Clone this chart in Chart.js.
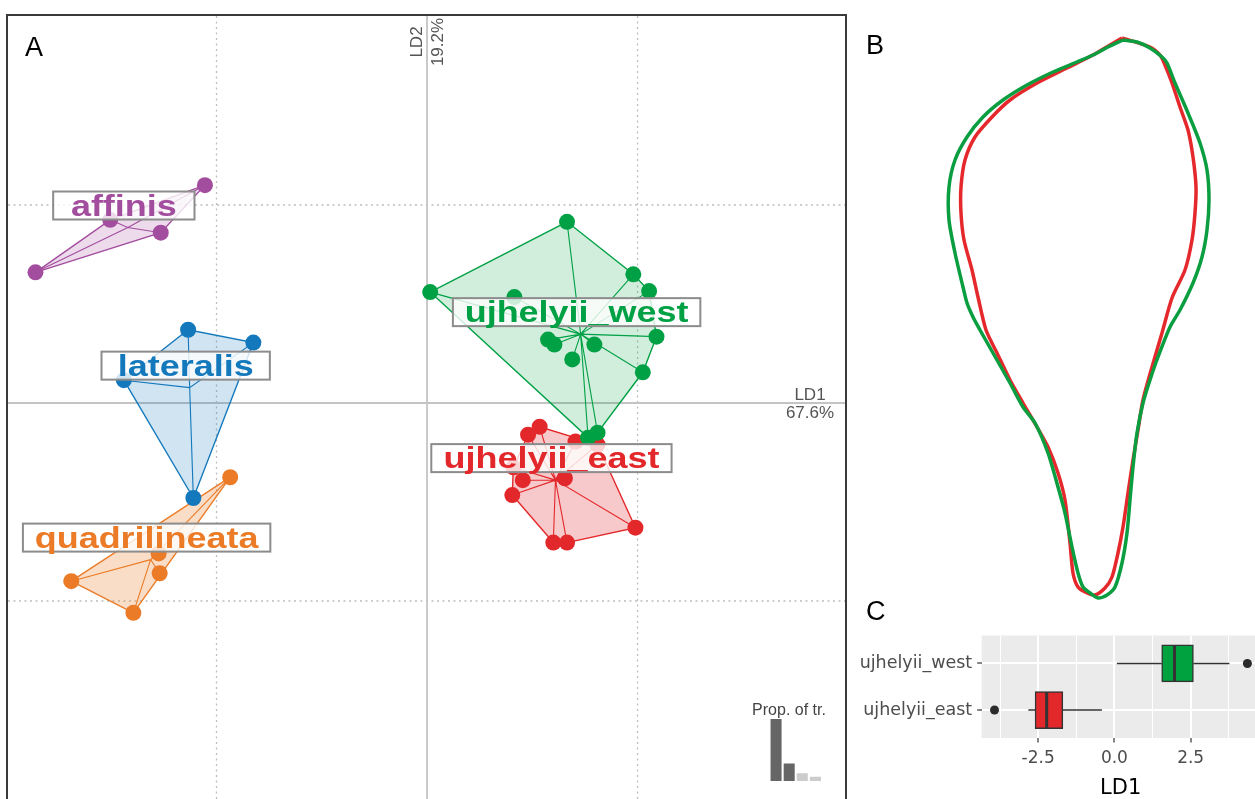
<!DOCTYPE html>
<html>
<head>
<meta charset="utf-8">
<title>Discriminant analysis of body shape</title>
<script src="https://cdn.jsdelivr.net/npm/chart.js@4.4.1/dist/chart.umd.min.js"></script>
<style>
  html, body { margin: 0; padding: 0; background: #fff; }
  body { width: 1255px; height: 799px; position: relative; overflow: hidden;
         font-family: "Liberation Sans", Arial, sans-serif; }
  canvas, .tag, #frameA { position: absolute; }
  #frameA { left: 6px; top: 14px; width: 837px; height: 790px; border: 2px solid #3a3a3a; }
  #chartA { left: 8px; top: 16px; }
  #chartEig { left: 745px; top: 695px; }
  #chartB { left: 848px; top: 15px; }
  #chartC { left: 848px; top: 620px; }
  .tag { font-size: 27px; line-height: 1; color: #000; }
</style>
</head>
<body>
<div id="frameA"></div>
<canvas id="chartA" width="837" height="790"></canvas>
<canvas id="chartEig" width="90" height="86"></canvas>
<canvas id="chartB" width="407" height="610"></canvas>
<canvas id="chartC" width="414" height="179"></canvas>
<div class="tag" style="left:25px;top:34px">A</div>
<div class="tag" style="left:866px;top:32px">B</div>
<div class="tag" style="left:866px;top:598px">C</div>

<script>
// ---------- Panel A: scores on the first two discriminant axes ----------
const speciesNames = ['affinis', 'lateralis', 'quadrilineata', 'ujhelyii_east', 'ujhelyii_west'];
const speciesColors = ['#A34D9E', '#1479BC', '#EB7B26', '#E3282B', '#00A145'];
const hullAlpha = [0.2, 0.2, 0.26, 0.25, 0.18];

const affinisLD1 = [-2.11, -3.01, -2.53, -3.72];
const affinisLD2 = [2.20, 1.85, 1.72, 1.32];

const lateralisLD1 = [-2.27, -1.65, -2.88, -2.22];
const lateralisLD2 = [0.74, 0.61, 0.23, -0.96];

const quadrilineataLD1 = [-1.87, -2.55, -2.54, -3.38, -2.79];
const quadrilineataLD2 = [-0.75, -1.52, -1.72, -1.80, -2.12];

const eastLD1 = [1.07, 0.96, 1.41, 1.62, 0.82, 0.91, 1.31, 0.81, 1.98, 1.20, 1.33];
const eastLD2 = [-0.24, -0.32, -0.39, -0.42, -0.65, -0.78, -0.76, -0.93, -1.26, -1.41, -1.41];

const westLD1 = [1.33, 0.03, 0.83, 1.96, 2.11, 2.18, 2.05, 1.15, 1.21, 1.38, 1.59, 1.62, 1.53];
const westLD2 = [1.83, 1.12, 1.07, 1.30, 1.13, 0.67, 0.31, 0.64, 0.59, 0.44, 0.59, -0.30, -0.35];

const scoresLD1 = [affinisLD1, lateralisLD1, quadrilineataLD1, eastLD1, westLD1];
const scoresLD2 = [affinisLD2, lateralisLD2, quadrilineataLD2, eastLD2, westLD2];

const axisLabels = ['LD1', 'LD2'];
const axisShare = ['67.6%', '19.2%'];

// proportion of trace per discriminant axis (inset)
const eigLabels = ['LD1', 'LD2', 'LD3', 'LD4'];
const eigProp = [67.6, 19.2, 8.5, 4.7];

// ---------- Panel B: mean outlines ----------
const westOutlineX = [0.33,0.47,0.60,0.72,0.77,0.85,0.98,1.10,1.17,1.19,1.17,1.12,1.03,0.90,0.80,0.68,0.60,0.53,0.47,0.43,0.40,0.37,0.32,0.25,0.17,0.08,0.00,-0.07,-0.12,-0.18,-0.25,-0.32,-0.42,-0.55,-0.67,-0.80,-0.97,-1.10,-1.17,-1.23,-1.27,-1.35,-1.41,-1.41,-1.35,-1.23,-1.07,-0.87,-0.63,-0.37,-0.13,0.03,0.18];
const westOutlineY = [2.80,2.78,2.72,2.63,2.57,2.37,2.07,1.77,1.50,1.20,0.90,0.63,0.37,0.10,-0.07,-0.37,-0.60,-0.83,-1.13,-1.47,-1.80,-2.13,-2.43,-2.67,-2.75,-2.78,-2.73,-2.67,-2.53,-2.27,-1.93,-1.67,-1.33,-1.03,-0.87,-0.63,-0.33,-0.10,0.03,0.17,0.33,0.67,1.00,1.33,1.60,1.83,2.03,2.20,2.35,2.48,2.58,2.65,2.73];
const eastOutlineX = [0.32,0.60,0.70,0.75,0.82,0.90,0.98,1.03,1.06,1.05,1.02,0.95,0.82,0.72,0.62,0.53,0.48,0.43,0.38,0.33,0.28,0.22,0.15,0.05,-0.03,-0.12,-0.17,-0.20,-0.25,-0.32,-0.42,-0.53,-0.67,-0.80,-0.93,-1.04,-1.12,-1.18,-1.26,-1.29,-1.29,-1.25,-1.15,-0.98,-0.80,-0.53,-0.23,0.03,0.20];
const eastOutlineY = [2.82,2.73,2.65,2.55,2.37,2.13,1.90,1.63,1.33,1.07,0.80,0.50,0.22,-0.13,-0.47,-0.80,-1.10,-1.40,-1.73,-2.07,-2.33,-2.57,-2.68,-2.75,-2.73,-2.67,-2.53,-2.23,-1.80,-1.53,-1.27,-1.07,-0.83,-0.60,-0.33,-0.10,0.23,0.50,0.80,1.07,1.33,1.60,1.83,2.03,2.20,2.37,2.52,2.65,2.75];

// ---------- Panel C: LD1 distribution of the two ujhelyii groups ----------
const boxCategories = ['ujhelyii_east', 'ujhelyii_west'];
const boxColors = ['#E3282B', '#00A23F'];
const boxLower = [-2.82, 0.08];
const boxQ1 = [-2.60, 1.55];
const boxMedian = [-2.22, 1.97];
const boxQ3 = [-1.69, 2.59];
const boxUpper = [-0.41, 3.77];
const boxOutliers = [-3.93, 4.36];
const ld1MajorTicks = [-2.5, 0, 2.5];
const ld1MinorTicks = [-3.75, -1.25, 1.25, 3.75];

// ---------------------------------------------------------------------------
function hexToRgba(hex, a) {
  const n = parseInt(hex.slice(1), 16);
  return `rgba(${(n >> 16) & 255},${(n >> 8) & 255},${n & 255},${a})`;
}
const mean = arr => arr.reduce((s, v) => s + v, 0) / arr.length;

function convexHull(points) {
  const p = points.slice().sort((a, b) => a.x - b.x || a.y - b.y);
  const cross = (o, a, b) => (a.x - o.x) * (b.y - o.y) - (a.y - o.y) * (b.x - o.x);
  const lower = [];
  for (const q of p) {
    while (lower.length >= 2 && cross(lower[lower.length - 2], lower[lower.length - 1], q) <= 0) lower.pop();
    lower.push(q);
  }
  const upper = [];
  for (let i = p.length - 1; i >= 0; i--) {
    const q = p[i];
    while (upper.length >= 2 && cross(upper[upper.length - 2], upper[upper.length - 1], q) <= 0) upper.pop();
    upper.push(q);
  }
  upper.pop(); lower.pop();
  return lower.concat(upper);
}

const SANS = '"Liberation Sans", Arial, sans-serif';
const WIDE = '"DejaVu Sans", sans-serif';

// ---------- Panel A ----------
const centroids = speciesNames.map((_, g) => ({ x: mean(scoresLD1[g]), y: mean(scoresLD2[g]) }));
const datasetsA = [];
speciesNames.forEach((name, g) => {
  const col = speciesColors[g];
  const pts = scoresLD1[g].map((x, i) => ({ x, y: scoresLD2[g][i] }));
  const c = centroids[g];
  const hull = convexHull(pts);
  hull.push(hull[0]);
  datasetsA.push({
    type: 'line', label: name + ' hull', data: hull, fill: 'shape',
    backgroundColor: hexToRgba(col, hullAlpha[g]), borderColor: col, borderWidth: 1.4,
    pointRadius: 0, tension: 0, order: 300 - g
  });
  const star = [];
  pts.forEach(p => { star.push(c, p); });
  star.push(c);
  datasetsA.push({
    type: 'line', label: name + ' star', data: star, fill: false,
    borderColor: col, borderWidth: 1.1, pointRadius: 0, tension: 0, order: 200 - g
  });
  datasetsA.push({
    type: 'scatter', label: name, data: pts, pointRadius: 8,
    pointBackgroundColor: col, pointBorderWidth: 0, order: 100 - g
  });
});

const gridPluginA = {
  id: 'ldGrid',
  beforeDatasetsDraw(chart) {
    const { ctx, chartArea: a, scales: { x, y } } = chart;
    ctx.save();
    ctx.strokeStyle = '#bdbdbd';
    ctx.lineWidth = 1.3;
    ctx.setLineDash([2, 3.5]);
    [-2, 2].forEach(v => {
      const px = x.getPixelForValue(v);
      ctx.beginPath(); ctx.moveTo(px, a.top); ctx.lineTo(px, a.bottom); ctx.stroke();
      const py = y.getPixelForValue(v);
      ctx.beginPath(); ctx.moveTo(a.left, py); ctx.lineTo(a.right, py); ctx.stroke();
    });
    ctx.setLineDash([]);
    ctx.strokeStyle = '#c4c4c4';
    ctx.lineWidth = 1.8;
    const x0 = x.getPixelForValue(0), y0 = y.getPixelForValue(0);
    ctx.beginPath(); ctx.moveTo(x0, a.top); ctx.lineTo(x0, a.bottom); ctx.stroke();
    ctx.beginPath(); ctx.moveTo(a.left, y0); ctx.lineTo(a.right, y0); ctx.stroke();

    // axis names with explained share
    ctx.fillStyle = '#555';
    ctx.font = '17px ' + SANS;
    ctx.textAlign = 'center';
    ctx.textBaseline = 'alphabetic';
    ctx.fillText(axisLabels[0], a.right - 35, y0 - 3);
    ctx.fillText(axisShare[0], a.right - 35, y0 + 15);
    ctx.save();
    ctx.translate(x0 - 5, a.top + 26);
    ctx.rotate(-Math.PI / 2);
    ctx.fillText(axisLabels[1], 0, 0);
    ctx.restore();
    ctx.save();
    ctx.translate(x0 + 16, a.top + 26);
    ctx.rotate(-Math.PI / 2);
    ctx.fillText(axisShare[1], 0, 0);
    ctx.restore();
    ctx.restore();
  },
  afterDatasetsDraw(chart) {
    const { ctx, scales: { x, y } } = chart;
    const stretch = 1.24;
    ctx.save();
    ctx.font = 'bold 29px ' + SANS;
    speciesNames.forEach((name, g) => {
      const cx = x.getPixelForValue(centroids[g].x) - 4;
      const cy = y.getPixelForValue(centroids[g].y) - 22;
      const tw = ctx.measureText(name).width * stretch;
      const bw = 0.9 * tw + 46, bh = 28;
      ctx.fillStyle = 'rgba(255,255,255,0.8)';
      ctx.fillRect(cx - bw / 2, cy - bh / 2, bw, bh);
      ctx.strokeStyle = '#8c8c8c';
      ctx.lineWidth = 2;
      ctx.strokeRect(cx - bw / 2, cy - bh / 2, bw, bh);
      ctx.save();
      ctx.translate(cx, cy + 10);
      ctx.scale(stretch, 1);
      ctx.textAlign = 'center';
      ctx.fillStyle = speciesColors[g];
      ctx.fillText(name, 0, 0);
      ctx.restore();
    });
    ctx.restore();
  }
};

new Chart(document.getElementById('chartA'), {
  type: 'scatter',
  data: { datasets: datasetsA },
  options: {
    responsive: false, animation: false, events: [],
    layout: { padding: 0, autoPadding: false },
    plugins: { legend: { display: false }, tooltip: { enabled: false } },
    scales: {
      x: { type: 'linear', display: false, min: -3.981, max: 3.971 },
      y: { type: 'linear', display: false, min: -4.071, max: 3.909 }
    }
  },
  plugins: [gridPluginA]
});

// inset: proportion of trace
new Chart(document.getElementById('chartEig'), {
  type: 'bar',
  data: {
    labels: eigLabels,
    datasets: [{
      data: eigProp,
      backgroundColor: ['#666666', '#666666', '#cccccc', '#cccccc'],
      categoryPercentage: 1, barPercentage: 0.84
    }]
  },
  options: {
    responsive: false, animation: false, events: [],
    layout: { padding: { left: 24.5, right: 13, top: 21, bottom: 0 }, autoPadding: false },
    plugins: { legend: { display: false }, tooltip: { enabled: false } },
    scales: {
      x: { display: false },
      y: { display: false, min: 0, max: 71 }
    }
  },
  plugins: [{
    id: 'eigTitle',
    afterDraw(chart) {
      const { ctx, chartArea: a } = chart;
      ctx.save();
      ctx.fillStyle = '#444';
      ctx.font = '16px ' + SANS;
      ctx.textAlign = 'center';
      ctx.fillText('Prop. of tr.', a.left + 19.5, a.top - 1);
      ctx.restore();
    }
  }]
});

// ---------- Panel B ----------
const closeLoop = (xs, ys) => {
  const d = xs.map((x, i) => ({ x, y: ys[i] }));
  d.push(d[0]);
  return d;
};
new Chart(document.getElementById('chartB'), {
  type: 'scatter',
  data: {
    datasets: [
      { label: 'ujhelyii_west', data: closeLoop(westOutlineX, westOutlineY), showLine: true,
        borderColor: '#0A9E40', borderWidth: 3.5, pointRadius: 0, tension: 0.25, order: 0 },
      { label: 'ujhelyii_east', data: closeLoop(eastOutlineX, eastOutlineY), showLine: true,
        borderColor: '#E4282B', borderWidth: 3.5, pointRadius: 0, tension: 0.25, order: 1 }
    ]
  },
  options: {
    responsive: false, animation: false, events: [],
    layout: { padding: 0, autoPadding: false },
    plugins: { legend: { display: false }, tooltip: { enabled: false } },
    scales: {
      x: { type: 'linear', display: false, min: -2.42, max: 1.65 },
      y: { type: 'linear', display: false, min: -3.05, max: 3.05 }
    }
  }
});

// ---------- Panel C ----------
const isMinor = v => ld1MinorTicks.some(m => Math.abs(m - v) < 1e-9);
const boxPlugin = {
  id: 'boxParts',
  beforeDraw(chart) {
    const { ctx, chartArea: a } = chart;
    ctx.save();
    ctx.fillStyle = '#EBEBEB';
    ctx.fillRect(a.left, a.top, a.right - a.left, a.bottom - a.top);
    ctx.restore();
  },
  beforeDatasetsDraw(chart) {
    const { ctx, scales: { x, y } } = chart;
    ctx.save();
    ctx.strokeStyle = '#333';
    ctx.lineWidth = 1.5;
    boxCategories.forEach((_, i) => {
      const py = y.getPixelForValue(i + 1);
      ctx.beginPath();
      ctx.moveTo(x.getPixelForValue(boxLower[i]), py);
      ctx.lineTo(x.getPixelForValue(boxQ1[i]), py);
      ctx.moveTo(x.getPixelForValue(boxQ3[i]), py);
      ctx.lineTo(x.getPixelForValue(boxUpper[i]), py);
      ctx.stroke();
    });
    ctx.restore();
  },
  afterDatasetsDraw(chart) {
    const { ctx, scales: { x, y } } = chart;
    ctx.save();
    ctx.strokeStyle = '#333';
    ctx.lineWidth = 3;
    boxCategories.forEach((_, i) => {
      const py = y.getPixelForValue(i + 1);
      const px = x.getPixelForValue(boxMedian[i]);
      ctx.beginPath();
      ctx.moveTo(px, py - 18);
      ctx.lineTo(px, py + 18);
      ctx.stroke();
    });
    ctx.restore();
  }
};

new Chart(document.getElementById('chartC'), {
  type: 'bar',
  data: {
    datasets: [
      {
        type: 'bar', indexAxis: 'y', label: 'LD1',
        data: boxCategories.map((_, i) => ({ x: [boxQ1[i], boxQ3[i]], y: i + 1 })),
        backgroundColor: boxColors, borderColor: '#333', borderWidth: 1.5,
        borderSkipped: false, barThickness: 37, order: 1
      },
      {
        type: 'scatter', label: 'outliers',
        data: boxOutliers.map((v, i) => ({ x: v, y: i + 1 })),
        pointRadius: 4.5, pointBackgroundColor: '#2b2b2b', pointBorderWidth: 0, order: 0
      }
    ]
  },
  options: {
    indexAxis: 'y',
    responsive: false, animation: false, events: [],
    layout: { padding: { top: 14, right: 2.4, left: 0, bottom: 0 }, autoPadding: false },
    plugins: { legend: { display: false }, tooltip: { enabled: false } },
    scales: {
      x: {
        type: 'linear', axis: 'x', position: 'bottom', min: -4.35, max: 4.76, offset: false,
        afterBuildTicks: s => {
          s.ticks = ld1MajorTicks.concat(ld1MinorTicks).sort((a, b) => a - b).map(v => ({ value: v }));
        },
        afterFit: s => { s.height = 61; },
        border: { display: false },
        grid: {
          offset: false,
          color: '#ffffff',
          lineWidth: c => (c.tick && isMinor(c.tick.value) ? 1 : 2),
          tickColor: c => (c.tick && isMinor(c.tick.value) ? 'rgba(0,0,0,0)' : '#333'),
          tickLength: 4.5, tickWidth: 1.2
        },
        ticks: {
          autoSkip: false, maxRotation: 0, padding: 6, color: '#4d4d4d',
          font: { family: WIDE, size: 17 },
          callback: v => (isMinor(v) ? '' : v.toFixed(1))
        },
        title: { display: true, text: 'LD1', color: '#000', font: { family: WIDE, size: 21 },
                 padding: { top: 0, bottom: -2 } }
      },
      y: {
        type: 'linear', axis: 'y', position: 'left', min: 0.4, max: 2.6, offset: false,
        afterBuildTicks: s => { s.ticks = boxCategories.map((_, i) => ({ value: i + 1 })); },
        afterFit: s => { s.width = 133.7; },
        border: { display: false },
        grid: { offset: false, color: '#ffffff', lineWidth: 2, tickColor: '#333', tickLength: 4.5, tickWidth: 1.2 },
        ticks: {
          autoSkip: false, padding: 5, color: '#4d4d4d',
          font: { family: WIDE, size: 17.5 },
          callback: v => boxCategories[Math.round(v) - 1]
        }
      }
    }
  },
  plugins: [boxPlugin]
});
</script>
</body>
</html>
